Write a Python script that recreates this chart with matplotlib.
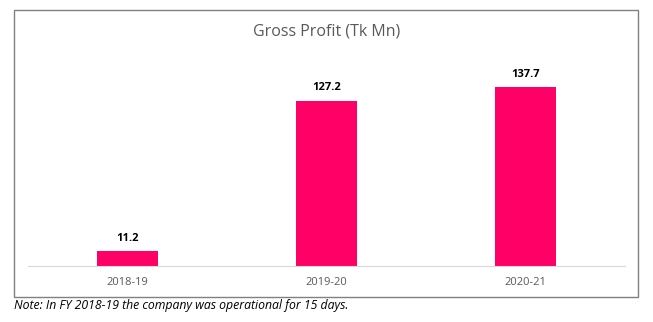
import matplotlib.pyplot as plt
from matplotlib.patches import Rectangle

# --- Data ---
years = ['2018-19', '2019-20', '2020-21']
gross_profit = [11.2, 127.2, 137.7]

W, H = 653, 322
fig = plt.figure(figsize=(W / 100, H / 100), dpi=100)

# --- Outer chart border ---
fig.patches.append(Rectangle((14 / W, 1 - 297 / H), (638 - 14) / W, (297 - 9.5) / H,
                             transform=fig.transFigure, fill=False,
                             edgecolor='#808080', linewidth=1.0))

# --- Plot area ---
ax = fig.add_axes([28 / W, 1 - 266 / H, (625 - 28) / W, (266 - 58.5) / H])
ax.bar(years, gross_profit, width=0.31, color='#FF0066')
ax.set_ylim(0, 160)
ax.set_xlim(-0.5, 2.5)

for x, v in enumerate(gross_profit):
    ax.text(x, v + 6, f'{v:.1f}', ha='center', va='bottom',
            fontsize=8, fontweight='bold', color='black', family='Open Sans')

for s in ['top', 'right', 'left']:
    ax.spines[s].set_visible(False)
ax.spines['bottom'].set_color('#d9d9d9')
ax.set_yticks([])
ax.tick_params(axis='x', length=0, pad=8, labelsize=8, labelcolor='#595959')
for lbl in ax.get_xticklabels():
    lbl.set_family('Open Sans')

fig.text(0.5, 1 - 32 / H, 'Gross Profit (Tk Mn)', ha='center', va='center',
         fontsize=11.5, color='#595959', family='Open Sans')

fig.text(14 / W, 1 - 306 / H, 'Note: In FY 2018-19 the company was operational for 15 days.',
         ha='left', va='center', fontsize=8.8, style='italic', color='black',
         family='Open Sans')

fig.savefig('out.png', dpi=100)
